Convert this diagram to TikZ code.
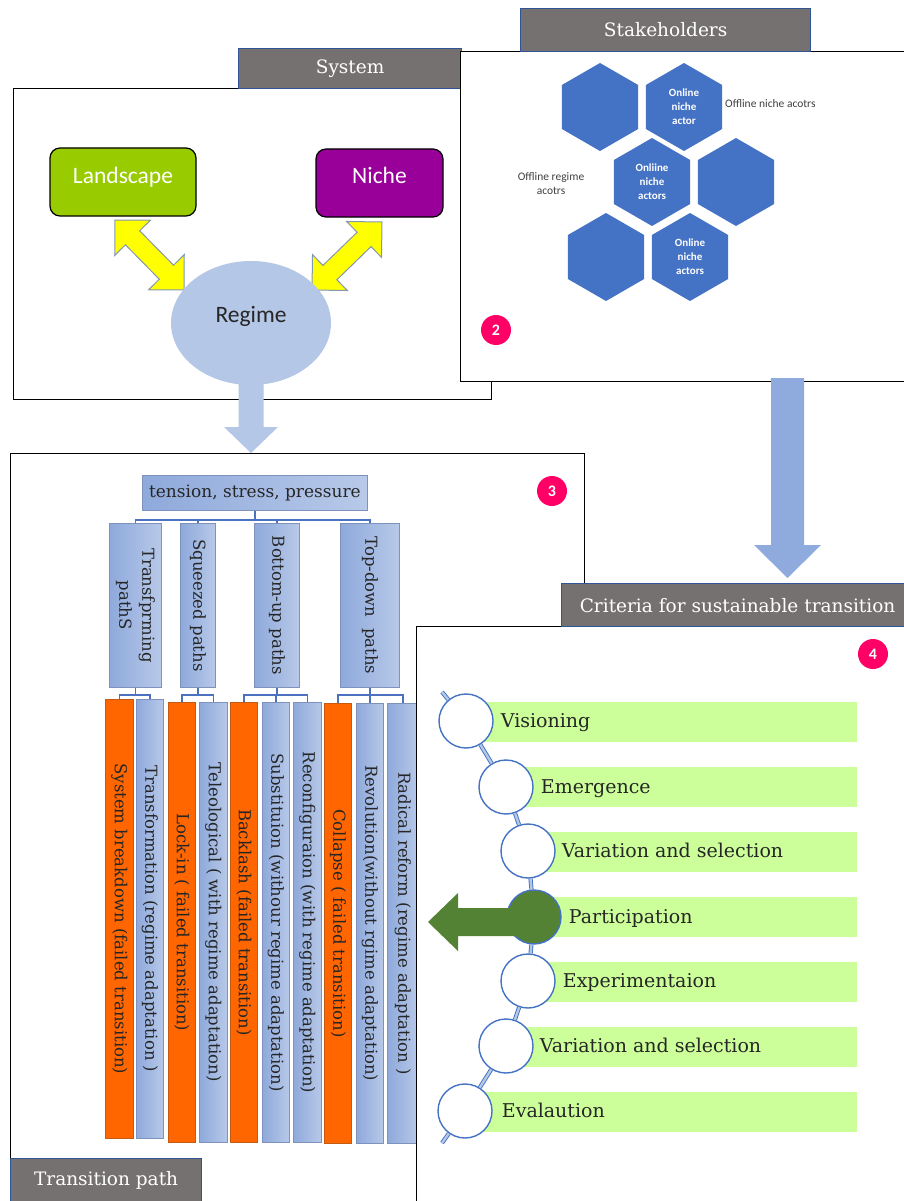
\documentclass[tikz,border=0pt]{standalone}
\usepackage{fontspec}
\usepackage{graphicx}
\setmainfont{DejaVu Serif}
\newfontfamily\calfont{Carlito}
\usetikzlibrary{shapes.geometric,calc}

\definecolor{tabgray}{HTML}{767171}
\definecolor{tabblue}{HTML}{2F5597}
\definecolor{landgreen}{HTML}{99CC00}
\definecolor{nichepurple}{HTML}{990099}
\definecolor{regimeblue}{HTML}{B4C7E7}
\definecolor{hexblue}{HTML}{4472C4}
\definecolor{badgepink}{HTML}{FF0066}
\definecolor{treeL}{HTML}{8EA9DB}
\definecolor{treeR}{HTML}{B8C9E9}
\definecolor{treeedge}{HTML}{7F92BD}
\definecolor{orangefill}{HTML}{FF6600}
\definecolor{orangeedge}{HTML}{C55A11}
\definecolor{twigblue}{HTML}{4A72C0}
\definecolor{bargreen}{HTML}{CCFF99}
\definecolor{circblue}{HTML}{4472C4}
\definecolor{partgreen}{HTML}{548235}
\definecolor{flowblue}{HTML}{8FAADC}
\definecolor{yelloworange}{HTML}{FFFF00}
\definecolor{yellowedge}{HTML}{8497B0}
\definecolor{textdark}{HTML}{262626}
\definecolor{notegray}{HTML}{404040}

% block arrow with a head at the tip end: style, tail, tip, shaft half width, head half width, head length
\newcommand\blockarrow[6]{%
  \fill[#1] ($(#2)!#4!90:(#3)$) -- ($(#3)!#6!(#2)!#4!-90:(#2)$) -- ($(#3)!#6!(#2)!#5!-90:(#2)$)
    -- (#3) -- ($(#3)!#6!(#2)!#5!90:(#2)$) -- ($(#3)!#6!(#2)!#4!90:(#2)$)
    -- ($(#2)!#4!-90:(#3)$) -- cycle;}
% block arrow with heads at both ends
\newcommand\twinarrow[6]{%
  \filldraw[#1] (#2) -- ($(#2)!#6!(#3)!#5!90:(#3)$) -- ($(#2)!#6!(#3)!#4!90:(#3)$)
    -- ($(#3)!#6!(#2)!#4!-90:(#2)$) -- ($(#3)!#6!(#2)!#5!-90:(#2)$) -- (#3)
    -- ($(#3)!#6!(#2)!#5!90:(#2)$) -- ($(#3)!#6!(#2)!#4!90:(#2)$)
    -- ($(#2)!#6!(#3)!#4!-90:(#3)$) -- ($(#2)!#6!(#3)!#5!-90:(#3)$) -- cycle;}

\begin{document}
\begin{tikzpicture}[x=1pt,y=-1pt,
  panel/.style={draw=black,line width=1.4pt,fill=white,inner sep=0pt,anchor=north west},
  tabbox/.style={draw=tabblue,line width=1.2pt,fill=tabgray,text=white,inner sep=0pt,
    anchor=north west,font=\fontsize{18.5}{22}\selectfont},
  keybox/.style={draw=black,line width=1.2pt,rounded corners=10pt,inner sep=0pt},
  keytext/.style={text=white,font=\calfont\fontsize{23.5}{26}\selectfont,anchor=base,inner sep=0pt},
  hexcell/.style={regular polygon,regular polygon sides=6,shape border rotate=30,
    minimum size=88pt,inner sep=0pt,fill=hexblue,text=white,align=center,
    font=\calfont\bfseries\fontsize{11}{14}\selectfont},
  note/.style={text=notegray,inner sep=0pt,align=center,font=\calfont\fontsize{11.5}{14}\selectfont},
  badge/.style={circle,fill=badgepink,text=white,minimum size=30pt,inner sep=0pt,
    font=\calfont\bfseries\fontsize{16}{16}\selectfont},
  pathbox/.style={draw=treeedge,line width=0.8pt,left color=treeL,right color=treeR,
    inner sep=0pt,anchor=north west,text=textdark,font=\fontsize{16.5}{23}\selectfont},
  failbox/.style={draw=orangeedge,line width=0.8pt,fill=orangefill,
    inner sep=0pt,anchor=north west,text=textdark,font=\fontsize{16.5}{23}\selectfont},
  twig/.style={draw=twigblue,line width=1.6pt},
  stage/.style={circle,draw=circblue,line width=1.4pt,fill=white,minimum size=54pt,inner sep=0pt},
  stagebar/.style={fill=bargreen,anchor=west,inner sep=0pt,minimum height=40pt},
  stagetext/.style={anchor=base west,inner sep=0pt,text=textdark,font=\fontsize{19}{22}\selectfont},
  chain/.style={draw=circblue,line width=0.9pt,double=regimeblue,double distance=2.4pt}
]
\useasboundingbox (0,0) rectangle (904,1201);

% ---------- panel 1: system ----------
\node[panel,minimum width=478pt,minimum height=311pt] (sysp) at (13,88) {};
\node[tabbox,minimum width=223pt,minimum height=40pt] (systab) at (238,48) {System};

\node[keybox,fill=landgreen,minimum width=146pt,minimum height=68pt] (land) at (123,182) {};
\node[keytext] (landtxt) at ($(land.center)+(0,1)$) {Landscape};
\node[keybox,fill=nichepurple,minimum width=127pt,minimum height=68pt] (niche) at (379.5,183) {};
\node[keytext] (nichetxt) at ($(niche.center)+(0,1)$) {Niche};

\coordinate (ya1) at (115,220);
\coordinate (ya2) at (184,290);
\coordinate (yb1) at (382,222);
\coordinate (yb2) at (312,290);
\twinarrow{fill=yelloworange,draw=yellowedge,line width=1pt}{ya1}{ya2}{10pt}{25pt}{25pt}
\twinarrow{fill=yelloworange,draw=yellowedge,line width=1pt}{yb1}{yb2}{10pt}{25pt}{25pt}

\node[ellipse,fill=regimeblue,minimum width=160pt,minimum height=124pt,inner sep=0pt] (regime) at (251,323) {};
\node[keytext,text=textdark] (regimetxt) at ($(regime.center)+(0,-1)$) {Regime};

% ---------- panel 2: stakeholders ----------
\node[panel,minimum width=450pt,minimum height=330pt] (stakep) at (460,51) {};
\node[tabbox,minimum width=290pt,minimum height=43pt] (staketab) at (520,8) {Stakeholders};

\node[hexcell] (h1) at (600,107) {};
\node[hexcell] (h2) at (684,107) {Online\\niche\\actor};
\node[hexcell] (h3) at (652,182) {Onliine\\niche\\actors};
\node[hexcell] (h4) at (736,182) {};
\node[hexcell] (h5) at (606,257) {};
\node[hexcell] (h6) at (690,257) {Online\\niche\\actors};

\node[note,anchor=west] (offniche) at (725,104) {Offline niche acotrs};
\node[note] (offregime) at (551,184) {Offline regime\\acotrs};
\node[badge] (b2) at (496,330) {2};

% ---------- panel 3: transition paths ----------
\node[panel,minimum width=574pt,minimum height=760pt] (pathp) at (10,453) {};
\node[badge] (b3) at (552,491) {3};

\node[pathbox,minimum width=225pt,minimum height=35pt,font=\fontsize{17}{20}\selectfont] (tsp) at (142,475) {tension, stress, pressure};

\node[pathbox,minimum width=52pt,minimum height=164pt] (t1) at (109,523)
  {\rotatebox{-90}{\begin{tabular}{@{}c@{}}Transfprming\\pathS\end{tabular}}};
\node[pathbox,minimum width=35pt,minimum height=164pt] (t2) at (180,523) {\rotatebox{-90}{Squeezed paths}};
\node[pathbox,minimum width=45pt,minimum height=164pt] (t3) at (254,523) {\rotatebox{-90}{Bottom-up paths}};
\node[pathbox,minimum width=59pt,minimum height=164pt] (t4) at (340,523) {\rotatebox{-90}{Top-down\ \ paths}};

\node[failbox,minimum width=28pt,minimum height=439pt] (p1) at (105,699) {\rotatebox{-90}{System breakdown (failed transition)}};
\node[pathbox,minimum width=27pt,minimum height=439pt] (p2) at (136,699) {\rotatebox{-90}{Transformation (regime adaptation )}};
\node[failbox,minimum width=27pt,minimum height=440pt] (p3) at (168,702) {\rotatebox{-90}{Lock-in ( failed transition)}};
\node[pathbox,minimum width=28pt,minimum height=440pt] (p4) at (199,702) {\rotatebox{-90}{Teleological ( with regime adaptation)}};
\node[failbox,minimum width=27pt,minimum height=440pt] (p5) at (230,702) {\rotatebox{-90}{Backlash (failed transition)}};
\node[pathbox,minimum width=27pt,minimum height=440pt] (p6) at (262,702) {\rotatebox{-90}{Substituion (withour regime adaptation)}};
\node[pathbox,minimum width=28pt,minimum height=440pt] (p7) at (293,702) {\rotatebox{-90}{Reconfiguraion (with regime adaptation)}};
\node[failbox,minimum width=27pt,minimum height=440pt] (p8) at (324,703) {\rotatebox{-90}{Collapse ( failed transition)}};
\node[pathbox,minimum width=27pt,minimum height=440pt] (p9) at (356,703) {\rotatebox{-90}{Revolution(without rgime adaptation)}};
\node[pathbox,minimum width=31pt,minimum height=440pt] (p10) at (387,703) {\rotatebox{-90}{Radical reform (regime adaptation )}};

\foreach \c in {t1,t2,t3,t4}
  \draw[twig] (tsp.south) -- ++(0,9) -| (\c.north);
\foreach \c in {p1,p2}
  \draw[twig] (t1.south) -- ++(0,7) -| (\c.north);
\foreach \c in {p3,p4}
  \draw[twig] (t2.south) -- ++(0,7) -| (\c.north);
\foreach \c in {p5,p6,p7}
  \draw[twig] (t3.south) -- ++(0,7) -| (\c.north);
\foreach \c in {p8,p9,p10}
  \draw[twig] (t4.south) -- ++(0,7) -| (\c.north);

% regime feeds the transition paths
\coordinate (aAs) at ($(regime.south)+(0,-4)$);
\coordinate (aAe) at (regime.south |- pathp.north);
\blockarrow{regimeblue}{aAs}{aAe}{12.5pt}{27pt}{26pt}

% stakeholders feed the criteria
\coordinate (aBs) at (787.5,378);
\coordinate (aBe) at (787.5,578);
\blockarrow{flowblue}{aBs}{aBe}{16.5pt}{33.5pt}{33pt}

% ---------- panel 4: criteria ----------
\node[panel,minimum width=500pt,minimum height=590pt] (critp) at (416,626) {};
\node[tabbox,minimum width=352pt,minimum height=43pt] (crittab) at (561,583) {Criteria for sustainable transition};
\node[badge] (b4) at (873,654) {4};

\node[stagebar,minimum width=391pt] (bar1) at (466,721.5) {};
\node[stagebar,minimum width=351pt] (bar2) at (506,786.5) {};
\node[stagebar,minimum width=329pt] (bar3) at (528,851.5) {};
\node[stagebar,minimum width=323pt] (bar4) at (534,916.5) {};
\node[stagebar,minimum width=329pt] (bar5) at (528,981.5) {};
\node[stagebar,minimum width=351pt] (bar6) at (506,1046.5) {};
\node[stagebar,minimum width=392pt] (bar7) at (465,1111.5) {};

\node[stage] (c1) at (466,721) {};
\node[stage] (c2) at (506,787) {};
\node[stage] (c3) at (528,851) {};
\node[stage,fill=partgreen] (c4) at (534,917) {};
\node[stage] (c5) at (528,981) {};
\node[stage] (c6) at (506,1046) {};
\node[stage] (c7) at (465,1111) {};

\coordinate (chaintop) at (442,692);
\coordinate (chainend) at (442,1143);
\draw[chain] (chaintop) -- (c1) (c1) -- (c2) (c2) -- (c3) (c3) -- (c4)
  (c4) -- (c5) (c5) -- (c6) (c6) -- (c7) (c7) -- (chainend);

\node[stagetext] (s1) at ($(c1.east)+(7,6)$) {Visioning};
\node[stagetext] (s2) at ($(c2.east)+(7,6)$) {Emergence};
\node[stagetext] (s3) at ($(c3.east)+(6,6)$) {Variation and selection};
\node[stagetext] (s4) at ($(c4.east)+(7,6)$) {Participation};
\node[stagetext] (s5) at ($(c5.east)+(7,6)$) {Experimentaion};
\node[stagetext] (s6) at ($(c6.east)+(6,6)$) {Variation and selection};
\node[stagetext] (s7) at ($(c7.east)+(9,6)$) {Evalaution};

% participation points back to the transition paths
\coordinate (gAs) at ($(c4.center)+(-8,5)$);
\coordinate (gAe) at (428,922);
\blockarrow{partgreen}{gAs}{gAe}{14pt}{29pt}{30pt}

% bottom tab of panel 3
\node[tabbox,minimum width=191pt,minimum height=44pt] (pathtab) at (10,1158) {Transition path};
\end{tikzpicture}
\end{document}
